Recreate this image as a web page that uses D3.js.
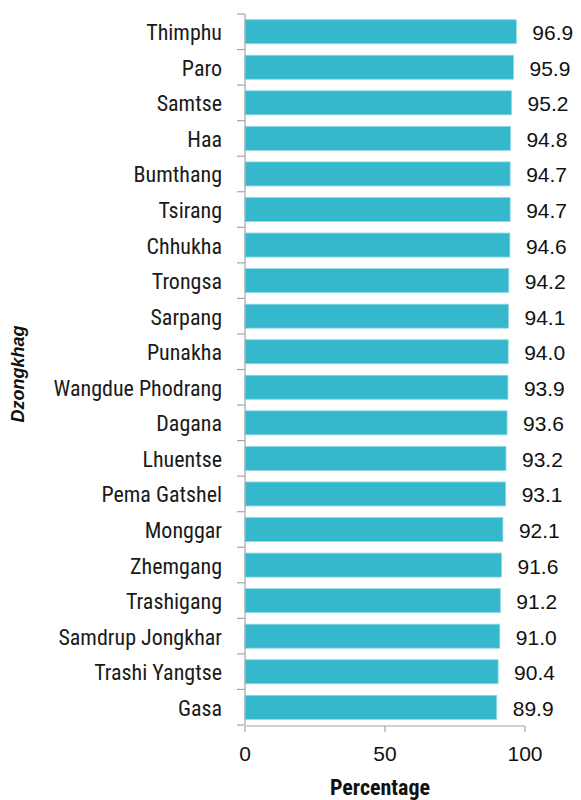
<!DOCTYPE html>
<html><head><meta charset="utf-8">
<script src="https://cdn.jsdelivr.net/npm/d3@7"></script>
<style>body{margin:0;background:#fff}</style>
</head><body>
<svg id="chart" width="581" height="800"></svg>
<script>
const categories = ["Thimphu","Paro","Samtse","Haa","Bumthang","Tsirang","Chhukha","Trongsa","Sarpang","Punakha","Wangdue Phodrang","Dagana","Lhuentse","Pema Gatshel","Monggar","Zhemgang","Trashigang","Samdrup Jongkhar","Trashi Yangtse","Gasa"];
const values = [96.9,95.9,95.2,94.8,94.7,94.7,94.6,94.2,94.1,94.0,93.9,93.6,93.2,93.1,92.1,91.6,91.2,91.0,90.4,89.9];
const xTicks = [0,50,100];
const xTitle = "Percentage";
const yTitle = "Dzongkhag";

(function(){
const svg = d3.select("#chart");
const mLeft = 245, mRight = 525, mTop = 14, mBottom = 725;
const x = d3.scaleLinear().domain([0,100]).range([mLeft,mRight]);
const y = d3.scaleBand().domain(categories).range([mTop,mBottom]).paddingInner(0.325).paddingOuter(0.16);
const axisColor = "#a6a6a6";
const narrow = "'Roboto Condensed','Liberation Sans',sans-serif";
const sans = "'Liberation Sans',Arial,sans-serif";

// bars
svg.append("g").selectAll("rect").data(values).join("rect")
  .attr("x", x(0)).attr("y", (d,i)=>y(categories[i]))
  .attr("width", d=>x(d)-x(0)).attr("height", y.bandwidth())
  .attr("fill","#35b8cb").attr("stroke","#8fd8e3").attr("stroke-width",0.8);

// value labels
svg.append("g").selectAll("text").data(values).join("text")
  .attr("x", d=>x(d)+16).attr("y",(d,i)=>y(categories[i])+y.bandwidth()/2+1)
  .attr("dominant-baseline","central")
  .attr("font-family",sans).attr("font-size",21).attr("fill","#111")
  .text(d=>d.toFixed(1));

// y axis (ticks between categories)
const yg = svg.append("g");
yg.append("line").attr("x1",mLeft).attr("x2",mLeft).attr("y1",mTop).attr("y2",mBottom).attr("stroke",axisColor).attr("stroke-width",1.2);
const boundaries = d3.range(categories.length+1).map(i=> mTop + (mBottom-mTop)*i/categories.length);
yg.selectAll("line.t").data(boundaries).join("line").attr("class","t")
  .attr("x1",mLeft-8).attr("x2",mLeft).attr("y1",d=>d).attr("y2",d=>d).attr("stroke",axisColor).attr("stroke-width",1.2);
yg.selectAll("text").data(categories).join("text")
  .attr("x", mLeft-23).attr("y", d=>y(d)+y.bandwidth()/2+1)
  .attr("text-anchor","end").attr("dominant-baseline","central")
  .attr("font-family",narrow).attr("font-size",22).attr("fill","#1a1a1a").text(d=>d);

// x axis
const xg = svg.append("g").attr("transform",`translate(0,${mBottom+1})`);
xg.append("line").attr("x1",mLeft).attr("x2",mRight).attr("stroke",axisColor).attr("stroke-width",1.2);
xg.selectAll("line.t").data(xTicks).join("line").attr("class","t")
  .attr("x1",d=>x(d)).attr("x2",d=>x(d)).attr("y1",0).attr("y2",6).attr("stroke",axisColor).attr("stroke-width",1.2);
xg.selectAll("text").data(xTicks).join("text")
  .attr("x",d=>x(d)).attr("y",35).attr("text-anchor","middle")
  .attr("font-family",sans).attr("font-size",21).attr("fill","#111").text(d=>d);

// titles
svg.append("text").attr("x",380).attr("y",795).attr("text-anchor","middle")
  .attr("font-family",narrow).attr("font-weight","bold").attr("font-size",22).attr("fill","#111").text(xTitle);
svg.append("text").attr("transform","translate(24,374) rotate(-90)").attr("text-anchor","middle")
  .attr("font-family",sans).attr("font-weight","bold").attr("font-style","italic")
  .attr("font-size",18).attr("fill","#111").text(yTitle);
})();
</script>
</body></html>
